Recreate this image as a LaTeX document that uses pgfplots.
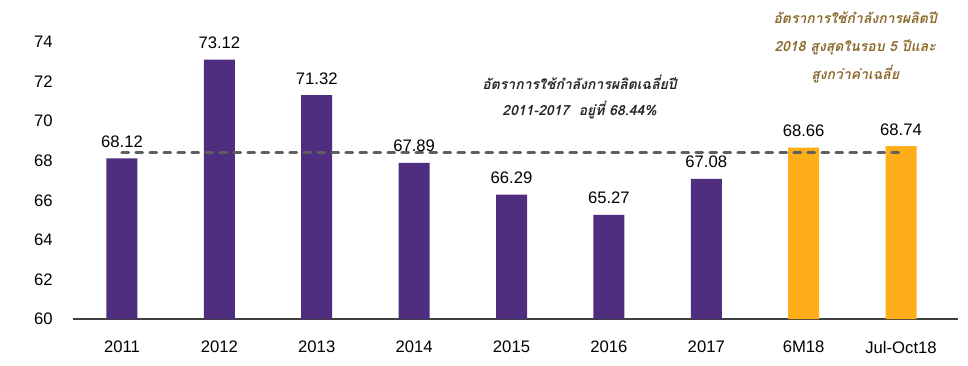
\documentclass[border=0pt]{standalone}
\usepackage{fontspec}
\setmainfont{Liberation Sans}
\newfontfamily\thaifont[Script=Thai]{Loma}
\usepackage{pgfplots}
\pgfplotsset{compat=1.18}
\definecolor{bpurple}{HTML}{4F2D7F}
\definecolor{borange}{HTML}{FDAE19}
\definecolor{bbrown}{HTML}{8C6A2E}
\definecolor{dline}{HTML}{5F5F5F}
\begin{document}
\begin{tikzpicture}
\useasboundingbox (-54.75pt,-34.5pt) rectangle (671.25pt,239.25pt);
\begin{axis}[
 scale only axis, width=663.75pt, height=239.25pt,
 xmin=-0.503, xmax=8.585, ymin=60, ymax=76.13,
 axis x line=bottom, axis y line=left,
 x axis line style={-, draw=black!75, line width=1pt},
 y axis line style={draw=none},
 ytick={60,62,...,74}, xtick={0,...,8},
 xticklabels={2011,2012,2013,2014,2015,2016,2017,6M18,Jul-Oct18},
 major tick length=0pt,
 tick label style={font=\fontsize{12.5}{15}\selectfont},
 /pgf/number format/assume math mode=true,
 yticklabel style={anchor=east, inner sep=0pt, xshift=-15pt},
 xticklabel style={anchor=north, inner sep=0pt, yshift=-16.5pt},
 every node near coord/.append style={font=\fontsize{12.5}{15}\selectfont, anchor=south, inner sep=0pt, yshift=8pt, text=black},
 barlab/.style={nodes near coords={\pgfmathprintnumber[fixed,fixed zerofill,precision=2,assume math mode=true]{\pgfplotspointmeta}}},
]
\addplot[ybar, bar width=23.25pt, bar shift=0pt, fill=bpurple, draw=none, barlab] coordinates {
 (0,68.12) (1,73.12) (2,71.32) (3,67.89) (4,66.29) (5,65.27) (6,67.08)};
\addplot[ybar, bar width=23.25pt, bar shift=0pt, fill=borange, draw=none, barlab] coordinates {
 (7,68.66) (8,68.74)};
\addplot[dline, line width=2.25pt, dash pattern=on 5pt off 5.5pt, line cap=round, forget plot] coordinates {(0,68.44) (8,68.44)};
\node[align=center, font=\thaifont\bfseries\itshape\fontsize{10.5}{19.5}\selectfont, text=black!85] at (axis cs:4.70,71.22) {อัตราการใช้กำลังการผลิตเฉลี่ยปี\\2011-2017~~อยู่ที่ 68.44\%};
\node[align=center, font=\thaifont\bfseries\itshape\fontsize{10.5}{21}\selectfont, text=bbrown] at (axis cs:7.53,73.75) {อัตราการใช้กำลังการผลิตปี\\2018 สูงสุดในรอบ 5 ปีและ\\สูงกว่าค่าเฉลี่ย};
\end{axis}
\end{tikzpicture}
\end{document}
